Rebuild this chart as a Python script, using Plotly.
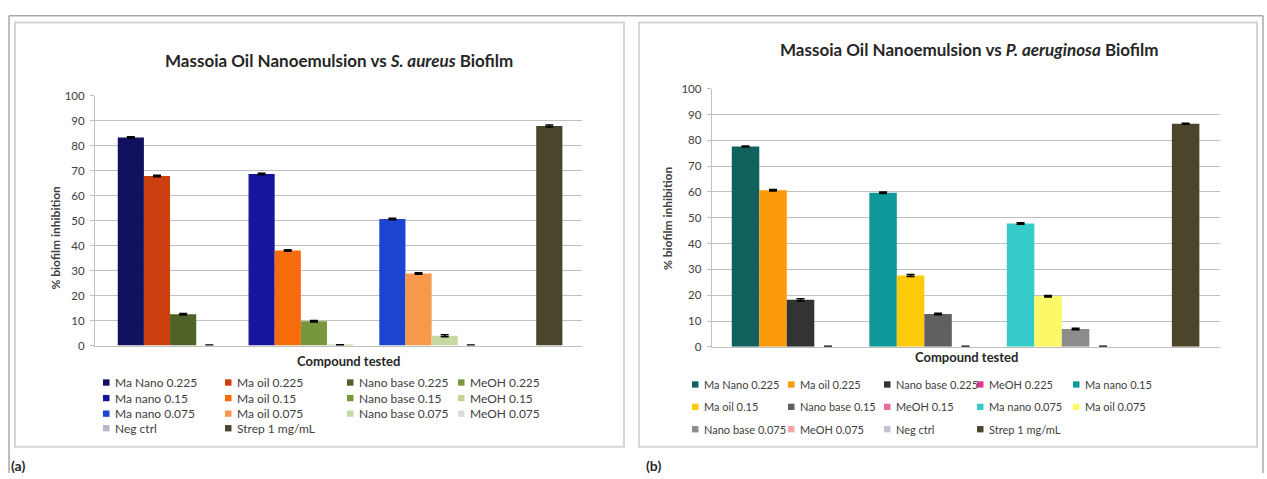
import plotly.graph_objects as go

# ---- data -------------------------------------------------------------
series = ["Ma Nano 0.225", "Ma oil 0.225", "Nano base 0.225", "MeOH 0.225",
          "Ma nano 0.15", "Ma oil 0.15", "Nano base 0.15", "MeOH 0.15",
          "Ma nano 0.075", "Ma oil 0.075", "Nano base 0.075", "MeOH 0.075",
          "Neg ctrl", "Strep 1 mg/mL"]

aureus = [83.2, 67.8, 12.5, 0.0, 68.6, 38.0, 9.7, 0.1,
          50.6, 28.8, 3.9, 0.0, 0.0, 87.8]
aureus_err = [0.3, 0.3, 0.3, 0.2, 0.3, 0.3, 0.3, 0.2,
              0.3, 0.3, 0.4, 0.2, 0.0, 0.4]

aeruginosa = [77.6, 60.7, 18.2, 0.0, 59.7, 27.6, 12.7, 0.0,
              47.8, 19.6, 6.9, 0.0, 0.0, 86.4]
aeruginosa_err = [0.2, 0.3, 0.4, 0.2, 0.3, 0.4, 0.3, 0.2,
                  0.3, 0.3, 0.3, 0.2, 0.0, 0.2]

y_ticks = [0, 10, 20, 30, 40, 50, 60, 70, 80, 90, 100]

# ---- styling ----------------------------------------------------------
colors_a = ["#11115f", "#cc4010", "#4f6228", "#7b9640",
            "#16169c", "#f86b0c", "#78973d", "#c3d59c",
            "#1c44d0", "#f8984a", "#c6d9a0", "#dcdcd4",
            "#b6b6cc", "#4a452b"]
colors_b = ["#11625e", "#fb9a0a", "#333333", "#e0388f",
            "#10999a", "#fdcb0b", "#606060", "#eb6c9c",
            "#36cbcb", "#fbf968", "#8c8c8c", "#f2a6a6",
            "#c2c2d2", "#4a452b"]

W, H = 1267, 479
FONT = "Lato"
TEXT_DARK = "#262626"
TEXT_MID = "#404040"


def px(x):
    return x / W


def py(y):
    return 1 - y / H


def slot(i):
    # four bars per concentration, one empty slot between groups
    return i + i // 4


fig = go.Figure()

panels = [
    dict(values=aureus, err=aureus_err, colors=colors_a, xa="x", ya="y"),
    dict(values=aeruginosa, err=aeruginosa_err, colors=colors_b, xa="x2", ya="y2"),
]

for p in panels:
    for i, name in enumerate(series):
        fig.add_trace(go.Bar(
            x=[slot(i)], y=[p["values"][i]], name=name,
            width=1.0,
            marker=dict(color=p["colors"][i], line=dict(width=0)),
            error_y=dict(type="data", array=[p["err"][i]],
                         visible=name != "Neg ctrl",
                         color="#000000", thickness=1.5, width=4),
            xaxis=p["xa"], yaxis=p["ya"], showlegend=False,
            hovertemplate=name + ": %{y}<extra></extra>",
        ))

grid = "#c0c0c0"
axis_common = dict(showgrid=False, zeroline=False, showticklabels=False,
                   showline=True, linecolor=grid, linewidth=1, fixedrange=True)
yaxis_common = dict(range=[0, 100], tickvals=y_ticks, showgrid=True,
                    gridcolor=grid, gridwidth=1, zeroline=False,
                    showline=True, linecolor=grid, linewidth=1,
                    ticks="outside", ticklen=4, tickcolor=grid,
                    ticklabelstandoff=3,
                    tickfont=dict(family=FONT, size=11.5, color=TEXT_MID),
                    fixedrange=True)

fig.update_layout(
    width=W, height=H,
    margin=dict(l=0, r=0, t=0, b=0),
    paper_bgcolor="white", plot_bgcolor="white",
    barmode="overlay",
    font=dict(family=FONT, color=TEXT_MID),
    showlegend=False,
    xaxis=dict(domain=[px(95), px(582)], range=[-1.37, 17.25], anchor="y", **axis_common),
    yaxis=dict(domain=[py(348), py(91)], anchor="x", **yaxis_common),
    xaxis2=dict(domain=[px(711.7), px(1220)], range=[-1.23, 17.25], anchor="y2", **axis_common),
    yaxis2=dict(domain=[py(349.3), py(84)], anchor="x2", **yaxis_common),
)

shapes = []
annotations = []

# page frame and panel frames
frame_dark = "#a8a8a8"
frame_light = "#d6d6d6"
shapes.append(dict(type="line", xref="paper", yref="paper",
                   x0=px(9), x1=px(1263), y0=py(9), y1=py(9),
                   line=dict(color=frame_dark, width=1.5)))
shapes.append(dict(type="line", xref="paper", yref="paper",
                   x0=px(9), x1=px(9), y0=py(9), y1=py(479),
                   line=dict(color=frame_dark, width=1.5)))
shapes.append(dict(type="line", xref="paper", yref="paper",
                   x0=px(1263), x1=px(1263), y0=py(9), y1=py(479),
                   line=dict(color=frame_dark, width=1.5)))
for x0, x1 in [(15, 624), (639, 1257)]:
    shapes.append(dict(type="rect", xref="paper", yref="paper",
                       x0=px(x0), x1=px(x1), y0=py(452), y1=py(16),
                       line=dict(color=frame_light, width=2)))

# titles
annotations.append(dict(
    text="<b>Massoia Oil Nanoemulsion vs <i>S. aureus</i> Biofilm</b>",
    x=px(339), y=py(55), xref="paper", yref="paper", showarrow=False,
    xanchor="center", yanchor="middle",
    font=dict(family=FONT, size=17, color=TEXT_DARK)))
annotations.append(dict(
    text="<b>Massoia Oil Nanoemulsion vs <i>P. aeruginosa</i> Biofilm</b>",
    x=px(970), y=py(44), xref="paper", yref="paper", showarrow=False,
    xanchor="center", yanchor="middle",
    font=dict(family=FONT, size=17, color=TEXT_DARK)))

# axis titles
for xx, yy in [(56, 237), (667, 217)]:
    annotations.append(dict(
        text="<b>% biofilm inhibition</b>", x=px(xx), y=py(yy),
        xref="paper", yref="paper", showarrow=False, textangle=-90,
        xanchor="center", yanchor="middle",
        font=dict(family=FONT, size=12, color=TEXT_MID)))
for xx, yy in [(348, 364), (966, 360)]:
    annotations.append(dict(
        text="<b>Compound tested</b>", x=px(xx), y=py(yy),
        xref="paper", yref="paper", showarrow=False,
        xanchor="center", yanchor="middle",
        font=dict(family=FONT, size=13, color=TEXT_DARK)))

# panel labels
for xx, lab in [(18, "(a)"), (653, "(b)")]:
    annotations.append(dict(
        text="<b>" + lab + "</b>", x=px(xx), y=py(471),
        xref="paper", yref="paper", showarrow=False,
        xanchor="center", yanchor="middle",
        font=dict(family=FONT, size=14, color=TEXT_DARK)))

# legends
legend_specs = [
    dict(colors=colors_a, cols=[103, 225, 347, 458], rows=[386, 402, 418, 433],
         size=12),
    dict(colors=colors_b, cols=[692, 788, 884, 977, 1073], rows=[388, 411, 434],
         size=11),
]
sw = 6.5
for spec in legend_specs:
    ncol = len(spec["cols"])
    for i, name in enumerate(series):
        cx = spec["cols"][i % ncol]
        cy = spec["rows"][i // ncol]
        shapes.append(dict(type="rect", xref="paper", yref="paper",
                           x0=px(cx), x1=px(cx + sw),
                           y0=py(cy + sw / 2), y1=py(cy - sw / 2),
                           fillcolor=spec["colors"][i], line=dict(width=0)))
        annotations.append(dict(
            text=name, x=px(cx + 10), y=py(cy), xref="paper", yref="paper",
            showarrow=False, xanchor="left", yanchor="middle",
            font=dict(family=FONT, size=spec["size"], color=TEXT_MID)))

fig.update_layout(shapes=shapes, annotations=annotations)

fig.write_html("out.html", config={"displayModeBar": False, "responsive": False})
